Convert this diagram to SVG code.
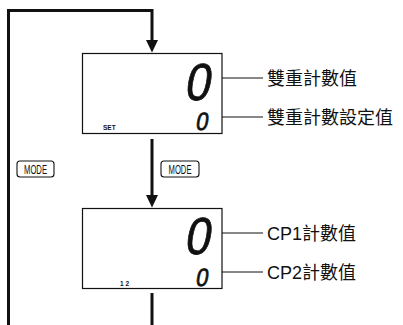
<svg xmlns="http://www.w3.org/2000/svg" width="403" height="325" viewBox="0 0 403 325">
<defs>
<style>
.thick{fill:none;stroke:#111;stroke-width:3}
.thin{fill:none;stroke:#111;stroke-width:1}
.box{fill:#fff;stroke:#111;stroke-width:1.2}
.btn{fill:#fff;stroke:#111;stroke-width:1.1}
.btxt{font-family:"Liberation Sans",Arial,sans-serif;font-size:13px;fill:#111;text-anchor:middle}
.lbl{font-family:"Liberation Sans","Noto Sans CJK TC",sans-serif;font-size:18px;fill:#111}
.dig{font-family:"Liberation Sans",Arial,sans-serif;fill:#111;stroke:#111;text-anchor:middle}
.tiny{font-family:"Liberation Sans",Arial,sans-serif;font-weight:bold;font-size:6.5px;fill:#111}
</style>
<marker id="ah" viewBox="0 0 8 5" refX="0.5" refY="2.5" markerWidth="8" markerHeight="5" markerUnits="userSpaceOnUse" orient="auto-start-reverse">
<path d="M0,2.5 L8,0 L8,5 Z" fill="#111"/>
</marker>
</defs>

<g id="connectors">
<polyline class="thick" points="8.5,325 8.5,10.5 152,10.5 152,41"/>
<polygon points="146,40 158,40 152,52.5" fill="#111"/>
<line class="thick" x1="152" y1="139" x2="152" y2="196"/>
<polygon points="146,195 158,195 152,207.5" fill="#111"/>
<line class="thick" x1="152" y1="293" x2="152" y2="325"/>
<line class="thin" x1="263" y1="78" x2="212" y2="78" marker-end="url(#ah)"/>
<line class="thin" x1="263" y1="117" x2="212" y2="117" marker-end="url(#ah)"/>
<line class="thin" x1="263" y1="233" x2="212" y2="233" marker-end="url(#ah)"/>
<line class="thin" x1="263" y1="272" x2="212" y2="272" marker-end="url(#ah)"/>
</g>

<g id="display1">
<rect class="box" x="82.5" y="53.5" width="139.5" height="80"/>
<text class="dig" font-size="52" stroke-width="0.8" transform="translate(196.5,100) skewX(-10) scale(0.88,1)">0</text>
<text class="dig" font-size="25" stroke-width="0.7" transform="translate(201,130) skewX(-10) scale(0.88,1)">0</text>
<text class="tiny" x="103" y="130">SET</text>
</g>

<g id="display2">
<rect class="box" x="82.5" y="208.5" width="139.5" height="80"/>
<text class="dig" font-size="52" stroke-width="0.8" transform="translate(196.5,254) skewX(-10) scale(0.88,1)">0</text>
<text class="dig" font-size="25" stroke-width="0.7" transform="translate(201,286) skewX(-10) scale(0.88,1)">0</text>
<text class="tiny" x="120" y="285.5">1 2</text>
</g>

<g id="mode-left">
<rect class="btn" x="17" y="161" width="37" height="16" rx="3"/>
<text class="btxt" x="35.5" y="173.8" textLength="23" lengthAdjust="spacingAndGlyphs">MODE</text>
</g>
<g id="mode-right">
<rect class="btn" x="161" y="161" width="38" height="16" rx="3"/>
<text class="btxt" x="180" y="173.8" textLength="23" lengthAdjust="spacingAndGlyphs">MODE</text>
</g>

<g id="label1"><text class="lbl" x="267" y="84.5">雙重計數值</text></g>
<g id="label2"><text class="lbl" x="267" y="123.5">雙重計數設定值</text></g>
<g id="label3"><text class="lbl" x="267" y="239.5">CP1計數值</text></g>
<g id="label4"><text class="lbl" x="267" y="278.5">CP2計數值</text></g>
</svg>
